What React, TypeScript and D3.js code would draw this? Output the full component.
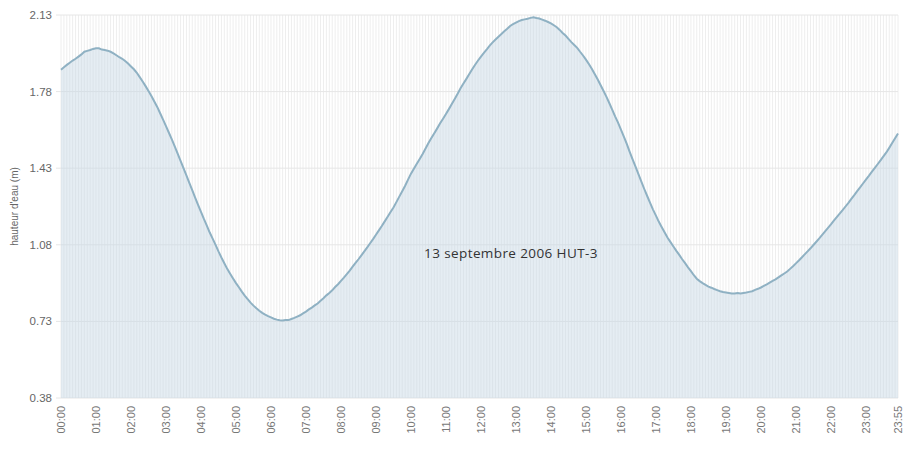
import React from "react";
import * as d3 from "d3";

const TITLE = "13 septembre 2006 HUT-3";
const Y_LABEL = "hauteur d'eau (m)";
const Y_TICKS = [0.38, 0.73, 1.08, 1.43, 1.78, 2.13];

// every 5 minutes, 00:00 .. 23:55
const TIMES: string[] = d3.range(0, 288).map((i) => {
  const h = Math.floor((i * 5) / 60);
  const m = (i * 5) % 60;
  return `${String(h).padStart(2, "0")}:${String(m).padStart(2, "0")}`;
});

const X_LABELS = [
  "00:00", "01:00", "02:00", "03:00", "04:00", "05:00", "06:00", "07:00",
  "08:00", "09:00", "10:00", "11:00", "12:00", "13:00", "14:00", "15:00",
  "16:00", "17:00", "18:00", "19:00", "20:00", "21:00", "22:00", "23:00", "23:55",
];

const LEVELS = [
  1.880, 1.891, 1.902, 1.912, 1.922, 1.930, 1.940, 1.950, 1.962, 1.966, 1.970, 1.975,
  1.978, 1.978, 1.972, 1.970, 1.967, 1.962, 1.955, 1.946, 1.937, 1.930, 1.920, 1.908,
  1.895, 1.882, 1.866, 1.846, 1.826, 1.805, 1.783, 1.760, 1.735, 1.710, 1.681, 1.652,
  1.622, 1.592, 1.562, 1.530, 1.497, 1.464, 1.430, 1.397, 1.363, 1.330, 1.296, 1.262,
  1.230, 1.198, 1.168, 1.136, 1.108, 1.080, 1.050, 1.022, 0.996, 0.970, 0.948, 0.926,
  0.905, 0.886, 0.866, 0.848, 0.832, 0.816, 0.802, 0.790, 0.779, 0.769, 0.761, 0.754,
  0.748, 0.742, 0.738, 0.735, 0.734, 0.736, 0.736, 0.741, 0.746, 0.752, 0.758, 0.767,
  0.775, 0.785, 0.793, 0.803, 0.812, 0.824, 0.836, 0.849, 0.860, 0.872, 0.887, 0.900,
  0.915, 0.930, 0.946, 0.962, 0.980, 0.997, 1.014, 1.032, 1.050, 1.068, 1.087, 1.106,
  1.126, 1.146, 1.166, 1.187, 1.208, 1.230, 1.250, 1.275, 1.300, 1.325, 1.350, 1.378,
  1.405, 1.428, 1.450, 1.472, 1.495, 1.520, 1.545, 1.568, 1.590, 1.612, 1.635, 1.656,
  1.678, 1.700, 1.723, 1.746, 1.770, 1.795, 1.817, 1.838, 1.860, 1.882, 1.903, 1.922,
  1.940, 1.957, 1.973, 1.990, 2.005, 2.018, 2.031, 2.043, 2.056, 2.067, 2.080, 2.088,
  2.095, 2.102, 2.107, 2.110, 2.113, 2.117, 2.120, 2.116, 2.114, 2.109, 2.104, 2.098,
  2.092, 2.083, 2.074, 2.062, 2.048, 2.036, 2.021, 2.006, 1.993, 1.980, 1.962, 1.945,
  1.926, 1.906, 1.884, 1.860, 1.836, 1.810, 1.784, 1.757, 1.728, 1.698, 1.667, 1.638,
  1.606, 1.574, 1.541, 1.505, 1.470, 1.437, 1.403, 1.369, 1.335, 1.303, 1.272, 1.241,
  1.213, 1.185, 1.160, 1.136, 1.112, 1.092, 1.072, 1.052, 1.034, 1.014, 0.996, 0.977,
  0.960, 0.941, 0.925, 0.914, 0.905, 0.897, 0.889, 0.884, 0.878, 0.873, 0.868, 0.864,
  0.862, 0.860, 0.858, 0.858, 0.860, 0.858, 0.860, 0.862, 0.865, 0.868, 0.874, 0.879,
  0.885, 0.892, 0.899, 0.907, 0.915, 0.922, 0.931, 0.940, 0.949, 0.958, 0.970, 0.982,
  0.995, 1.008, 1.022, 1.036, 1.050, 1.064, 1.079, 1.094, 1.109, 1.125, 1.141, 1.157,
  1.173, 1.190, 1.206, 1.222, 1.238, 1.255, 1.272, 1.290, 1.307, 1.325, 1.342, 1.360,
  1.378, 1.395, 1.413, 1.430, 1.448, 1.466, 1.484, 1.502, 1.523, 1.545, 1.567, 1.589,
];

const W = 904;
const H = 451;
const M = { left: 61, right: 6, top: 15, bottom: 53 };

export default function App() {
  const x = d3.scalePoint<string>().domain(TIMES).range([M.left, W - M.right]);
  const y = d3.scaleLinear().domain([0.38, 2.13]).range([H - M.bottom, M.top]);
  const data = TIMES.map((t, i) => ({ t, v: LEVELS[i] }));
  const area = d3
    .area<{ t: string; v: number }>()
    .x((d) => x(d.t)!)
    .y0(y(0.38))
    .y1((d) => y(d.v));
  const line = d3
    .line<{ t: string; v: number }>()
    .x((d) => x(d.t)!)
    .y((d) => y(d.v));
  const font = "'Liberation Sans', Arial, sans-serif";
  return (
    <svg
      width={W}
      height={H}
      style={{ position: "absolute", left: 0, top: 0, background: "#fff" }}
    >
      {/* vertical grid */}
      {TIMES.map((t) => (
        <line
          key={t}
          x1={x(t)}
          x2={x(t)}
          y1={y(2.13)}
          y2={y(0.38)}
          stroke="#eeeeee"
          strokeWidth={1}
        />
      ))}
      {/* horizontal grid */}
      {Y_TICKS.map((v) => (
        <line
          key={v}
          x1={M.left - 5}
          x2={W - M.right}
          y1={y(v)}
          y2={y(v)}
          stroke="#e6e6e6"
          strokeWidth={1}
        />
      ))}
      <path d={area(data)!} fill="#c5d8e4" fillOpacity={0.45} />
      <path d={line(data)!} fill="none" stroke="#8fb1c3" strokeWidth={2} />
      {Y_TICKS.map((v) => (
        <text
          key={v}
          x={M.left - 9}
          y={y(v)}
          dy="0.35em"
          textAnchor="end"
          fontFamily={font}
          fontSize={11.5}
          fill="#666"
        >
          {v.toFixed(2)}
        </text>
      ))}
      <text
        transform={`translate(18,${(y(0.38) + y(2.13)) / 2}) rotate(-90)`}
        textAnchor="middle"
        fontFamily={font}
        fontSize={10}
        fill="#666"
      >
        {Y_LABEL}
      </text>
      {X_LABELS.map((t) => (
        <text
          key={t}
          transform={`translate(${x(t)! + 4},${y(0.38) + 8}) rotate(-90)`}
          textAnchor="end"
          fontFamily={font}
          fontSize={11}
          fill="#777"
        >
          {t}
        </text>
      ))}
      <text
        x={511}
        y={253}
        dy="0.35em"
        textAnchor="middle"
        fontFamily="'Open Sans', Lato, sans-serif"
        fontSize={13.5}
        letterSpacing={0.4}
        fill="#333"
      >
        {TITLE}
      </text>
    </svg>
  );
}
